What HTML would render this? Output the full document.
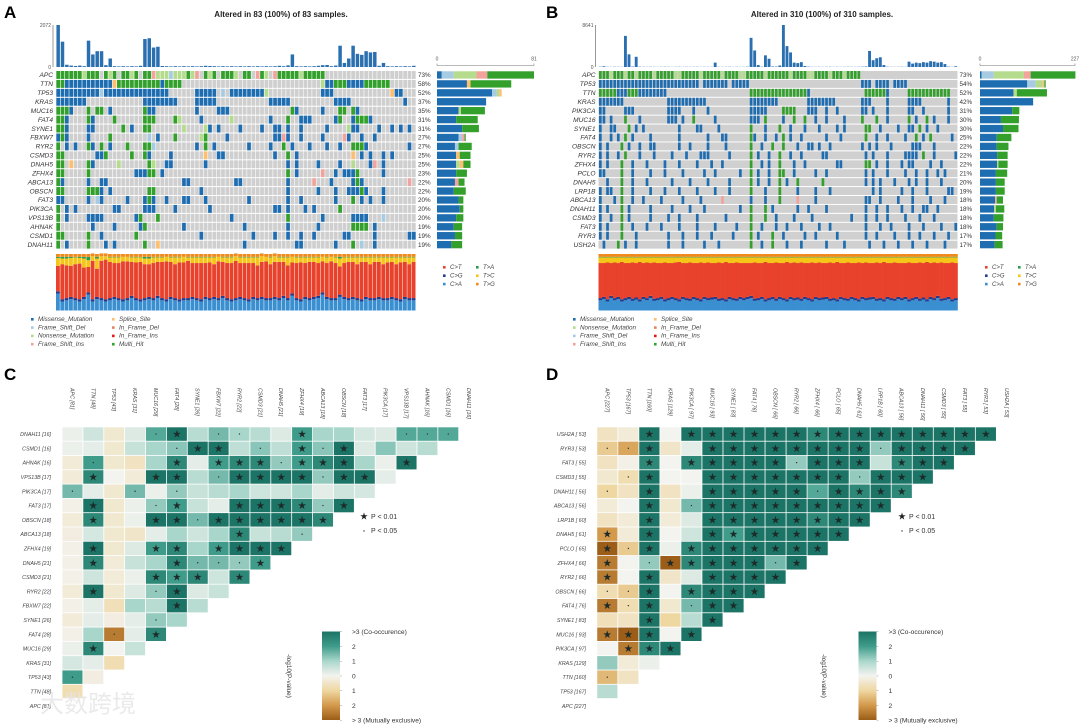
<!DOCTYPE html>
<html><head><meta charset="utf-8">
<style>
html,body{margin:0;padding:0;background:#fff;}
svg{display:block;font-family:"Liberation Sans","Noto Sans CJK SC",sans-serif;}
</style></head>
<body>
<svg id="fig" width="1080" height="725" viewBox="0 0 1080 725" xmlns="http://www.w3.org/2000/svg">
<rect x="0" y="0" width="1080" height="725" fill="#fff"/>
<text x="4" y="18" font-size="17" font-weight="bold">A</text>
<text x="546" y="18" font-size="17" font-weight="bold">B</text>
<text x="4" y="380" font-size="17" font-weight="bold">C</text>
<text x="546" y="380" font-size="17" font-weight="bold">D</text>
<text x="281" y="17" font-size="8" font-weight="bold" text-anchor="middle" fill="#222">Altered in 83 (100%) of 83 samples.</text>
<text x="822" y="17" font-size="8" font-weight="bold" text-anchor="middle" fill="#222">Altered in 310 (100%) of 310 samples.</text>
<g id="layer"></g>
<text x="40" y="712" font-size="24" fill="#e6e6e6" opacity="0.8">大数跨境</text>
</svg>
<script>
// ---------------- DATA ----------------
const genesA=['APC','TTN','TP53','KRAS','MUC16','FAT4','SYNE1','FBXW7','RYR2','CSMD3','DNAH5','ZFHX4','ABCA13','OBSCN','FAT3','PIK3CA','VPS13B','AHNAK','CSMD1','DNAH11'];
const pctA=['73%','58%','52%','37%','35%','31%','31%','27%','27%','25%','25%','23%','22%','22%','20%','20%','20%','19%','19%','19%'];
const gridA=[
"0-5M 6n 7-9M 11M 12n 13M 15-16M 17n 18M 20-21M 22i 23-25n 26f 27-29n 30M 31n 32i 34M 35n 36M 38M 39-40M 41n 43-44M 46i 47M 48n 50i 51-52M 53-55M 56n 57-61M",
"0-1M 2-12m 13s 14-23M 24m 25-28M 61n 62-63m 64-66M 67-70m 71-76M",
"0-9m 10f 11-25m 32-36m 38f 40-47m 48n 61-63m 77s 78-79m",
"0-6m 20-27m 32-36m 49-53m 64-67m 80m",
"0-2M 3m 7M 9-10M 12m 20M 21-22m 32m 37-39m 54M 55m 61m 65-66M 68M 69m",
"0-1M 2m 7M 8m 13M 20-22M 27M 28n 33m 40n 49m 53M 56-58m 64m 65M 68m 69-71M 72m",
"0-1M 2m 7-8m 15M 17m 20-21M 29n 34n 35m 37m 42m 47m 50-51m 53m 56m 62m 67n 68-69m 74m 77m 79m 81m",
"0m 1M 2m 7m 12M 21f 23m 27M 33n 34M 39m 50-51m 52i 53m 56m 61m 66i 67m 70m 73m",
"0M 2m 4m 7M 8m 10M 12m 16M 20-21M 22f 32m 34M 36m 44m 49m 52M 54m 58m 62m 65m 68M 69-70M 71m 81m",
"0-1M 9-10m 11M 17M 20M 21m 26m 34s 37-38m 50m 53M 55m 68s 70m 72m 75m 77m",
"0-1M 3s 7M 8m 14n 21M 22n 25-26m 34m 53m 55m 60m 65m 68n 72m 73i 75m",
"0-1M 7M 18-20m 21-22M 24m 53M 55m 61i 64m 66-68m 69M 75m",
"0M 1m 7m 10-11m 29-30m 41-42m 53m 59i 63m 68m 69M 70m 81i",
"0-1M 7-9M 10m 12m 21-22M 33m 53m 60m 64m 67-69m 70M 71m 75m",
"0-1m 7m 9f 10m 16m 20m 21M 22m 25m 29-30m 34m 44m 53m 56m 64m 68M 70m 72m 75m",
"0M 2m 4m 13-14m 20-22m 27m 35m 50-51m 53m 57m 59m 65M",
"0M 2m 7-10m 18m 19M 23M 40m 53M 61m 68m 69-71m 75f",
"0M 8m 13m 19m 20M 29m 43m 53m 60m 68-71M 73m",
"0-1M 7M 10m 18M 33m 45m 50m 53m 56m 59m 66-67m 73m 81-82m",
"0M 2m 7M 11m 13m 20M 23s 43m 55-56m 64m 68M 70f 73m"];
// right bar counts: [missense, fs_del, nonsense, fs_ins, splice, multi]
const barsA=[[4,10,19,9,0,39],[25,0,0,0,3,34],[46,4,2,0,2,0],[41,0,0,0,0,0],[18,0,2,0,0,20],[16,0,0,0,0,18],[21,0,0,0,0,14],[18,3,0,2,0,1],[15,3,0,0,0,11],[16,0,0,0,3,9],[16,0,3,0,3,6],[16,0,0,0,0,9],[15,0,0,3,0,5],[14,0,0,0,0,10],[18,0,0,0,0,4],[19,0,0,0,0,3],[16,0,0,0,0,6],[14,0,0,0,0,7],[15,0,0,0,0,6],[12,0,0,0,0,9]];
const tmbA=[2072,1250,110,70,50,70,40,1300,620,780,780,90,420,40,30,40,30,40,30,60,1380,1420,960,1000,50,40,30,40,30,40,30,40,30,40,60,50,40,30,40,30,40,30,40,30,40,30,40,30,40,30,40,60,40,80,620,40,30,40,30,40,60,90,100,40,70,1050,200,420,1050,650,600,780,720,740,60,200,40,30,40,30,40,30,60];
const ctA=[0.45,0.62,0.58,0.55,0.6,0.63,0.52,0.45,0.68,0.5,0.66,0.7,0.64,0.6,0.62,0.67,0.65,0.6,0.63,0.66,0.6,0.58,0.62,0.6,0.64,0.67,0.62,0.6,0.65,0.63,0.66,0.6,0.62,0.64,0.6,0.63,0.58,0.65,0.6,0.62,0.64,0.66,0.6,0.62,0.64,0.6,0.58,0.62,0.65,0.6,0.62,0.64,0.6,0.58,0.55,0.62,0.65,0.6,0.64,0.62,0.58,0.55,0.6,0.65,0.62,0.5,0.6,0.64,0.62,0.6,0.66,0.62,0.6,0.64,0.62,0.6,0.63,0.62,0.6,0.65,0.62,0.6,0.64];
const caA=[0.32,0.18,0.2,0.22,0.2,0.18,0.22,0.3,0.18,0.22,0.2,0.18,0.2,0.22,0.2,0.18,0.2,0.24,0.2,0.18,0.2,0.22,0.2,0.24,0.2,0.18,0.22,0.2,0.18,0.2,0.2,0.22,0.2,0.18,0.22,0.2,0.22,0.2,0.24,0.2,0.18,0.2,0.22,0.2,0.18,0.22,0.2,0.22,0.2,0.2,0.22,0.2,0.24,0.2,0.28,0.2,0.18,0.22,0.2,0.22,0.24,0.3,0.22,0.2,0.2,0.26,0.22,0.2,0.22,0.2,0.18,0.22,0.2,0.2,0.22,0.2,0.2,0.22,0.2,0.18,0.22,0.2,0.2];
const tcA=[0.14,0.1,0.12,0.14,0.12,0.1,0.16,0.12,0.08,0.18,0.08,0.06,0.08,0.1,0.1,0.08,0.08,0.08,0.09,0.08,0.1,0.1,0.1,0.08,0.08,0.08,0.08,0.12,0.09,0.1,0.06,0.1,0.1,0.1,0.1,0.09,0.12,0.08,0.08,0.1,0.1,0.08,0.1,0.1,0.1,0.1,0.14,0.1,0.08,0.12,0.1,0.08,0.08,0.14,0.1,0.1,0.09,0.1,0.08,0.08,0.1,0.08,0.1,0.08,0.1,0.14,0.1,0.08,0.08,0.12,0.08,0.08,0.12,0.08,0.08,0.12,0.09,0.08,0.12,0.09,0.08,0.12,0.08];

const genesB=['APC','TP53','TTN','KRAS','PIK3CA','MUC16','SYNE1','FAT4','OBSCN','RYR2','ZFHX4','PCLO','DNAH5','LRP1B','ABCA13','DNAH11','CSMD3','FAT3','RYR3','USH2A'];
const pctB=['73%','54%','52%','42%','31%','30%','30%','25%','22%','22%','22%','21%','20%','19%','18%','18%','18%','18%','17%','17%'];
const gridB=[
"0-2M 3n 4-6M 7n 8-9M 10n 11-14M 15n 16-20M 21-22n 23-27M 28n 29-33M 34n 35-38M 39-40n 41-45M 46n 47-52M 53n 54-57M 58-59n 60-63M 64n 65-67M 68n 69-72M",
"0-27m 29-35m 37-41m 73-75m 77-80m 82-85m",
"0-4M 5-7m 8-10M 11-18m 42-57M 58m 74-79M 80m 86-97M",
"0-6m 19-29m 42-49m 58-65m 73-75m 80m 86-89m 97m",
"0-1m 7-9m 19-22m 26m 30m 42-46m 51-54M 58-60m 63m 66m 73-74m 76m 80m 86-87m 90m 97m",
"0-1m 3m 7M 11m 19-21m 23m 26M 32m 42-44m 46M 51m 54M 57M 60m 63m 68m 73M 77M 80m 86M 88m 91M 93m 97m",
"0m 3-4m 8M 10m 12m 22m 27-28m 33m 42M 46m 50M 53m 57m 61m 66m 68m 74-75M 78m 83m 86-87m 89M 91m 94m",
"0m 3m 5m 7M 9m 14m 22m 30m 34-35m 42M 43m 46m 49m 51M 53m 56m 63m 67m 74M 77m 80m 85m 88M 90m 92M 98m",
"0m 2m 6M 8m 11m 14-15m 22m 25m 30m 35m 42M 45m 48M 51M 55m 58-59m 61m 64m 73m 75m 77m 81m 87-89m 93m",
"0m 2m 5m 7M 11m 15m 20m 24m 28-30m 36m 42M 44m 47m 50M 53m 56m 62-63m 74m 76m 80m 85-88m 90M 93m 99m",
"0m 2m 6M 9m 13m 18m 22m 27m 31m 34m 42M 45m 47m 50M 54m 57m 66-67m 74-75M 77m 80m 84m 86-87m 92m 95m",
"0-1m 6M 9m 14m 18m 23m 29m 32m 39m 42M 44m 47m 50-51M 54m 60m 63m 74m 76m 80m 85m 88m 91m 94m 96m",
"2m 6M 9m 13m 20m 25m 30m 36m 42M 44m 47m 50M 52m 55M 62M 74m 76m 78m 82m 86m 88m 91m 95m",
"0m 2-3m 6M 9m 14m 18m 22m 27m 32m 36m 42M 46m 50M 55m 60m 64m 76m 78m 84m 87m 91m 97-98m",
"0m 4m 6M 9m 12m 17m 23m 28m 34i 42m 46m 50M 55m 60m 55i 74-75m 78m 83m 87m 92m 96m",
"0m 2m 6M 8m 14m 20m 25m 29m 39m 42M 46M 48m 55m 58m 63m 74m 77m 80m 84m 87m 90-91m 94m",
"0m 3m 6M 8m 14m 19m 22m 27m 35m 42M 46M 49m 54m 59m 70m 74m 77m 80m 85m 89m 93m",
"0m 2m 6M 9m 13m 17m 22m 27m 32m 38m 42M 45m 49m 52m 56m 61m 64m 74m 78m 81m 86m 90m 95m 99m",
"0m 2m 6M 10m 19m 23m 27m 31m 37m 42M 44m 48M 51m 57m 60m 66m 74m 77m 82m 86m 89m 93m 97m",
"1m 5M 7m 10m 19m 23m 29m 33m 42M 45m 48M 52m 56m 63m 68m 75m 79m 83m 87m 91m 96m"];
const barsB=[[4,29,72,16,0,107],[113,20,17,0,4,3],[80,0,8,0,0,72],[127,0,0,0,0,0],[77,0,0,0,0,17],[50,0,0,0,0,43],[55,0,0,0,0,37],[40,0,0,0,0,35],[40,0,0,0,0,28],[41,0,0,0,0,25],[41,0,3,0,0,22],[38,0,0,0,0,27],[38,0,0,0,0,21],[38,0,0,0,0,21],[36,0,0,4,0,15],[34,0,4,0,0,20],[33,0,0,0,0,23],[40,0,0,0,0,15],[37,0,0,0,0,16],[35,0,0,0,0,19]];
const tmbB=[60,150,40,30,50,40,30,6400,2600,80,2100,60,40,30,50,40,30,40,50,40,30,40,50,30,40,30,40,50,30,40,40,30,900,40,30,40,50,30,40,30,40,60,6000,3400,400,60,2400,1700,100,80,300,8641,4300,3000,900,800,1000,200,60,40,30,40,30,40,50,30,40,30,40,50,40,30,50,60,100,3300,1400,1800,2000,400,60,40,30,40,50,30,1100,700,900,800,1000,900,1200,1100,900,1000,600,80,40,150];
const ctB=[0.62,0.6,0.65,0.58,0.63,0.6,0.66,0.62,0.6,0.64,0.61,0.66,0.6,0.63,0.58,0.64,0.62,0.6,0.65,0.62,0.6,0.63,0.66,0.6,0.62,0.64,0.6,0.62,0.65,0.6,0.63,0.61,0.6,0.64,0.62,0.66,0.6,0.62,0.64,0.6,0.62,0.6,0.58,0.64,0.62,0.6,0.66,0.62,0.6,0.64,0.6,0.62,0.66,0.6,0.63,0.61,0.64,0.6,0.62,0.65,0.6,0.63,0.61,0.6,0.64,0.62,0.66,0.6,0.62,0.64,0.6,0.62,0.65,0.6,0.63,0.61,0.6,0.64,0.62,0.66,0.6,0.62,0.64,0.6,0.62,0.6,0.65,0.62,0.6,0.64,0.61,0.66,0.6,0.63,0.58,0.64,0.62,0.6,0.65,0.62];
const caB=[0.2,0.22,0.18,0.24,0.2,0.22,0.18,0.2,0.22,0.19,0.21,0.18,0.22,0.2,0.24,0.19,0.2,0.22,0.18,0.2,0.22,0.2,0.18,0.22,0.2,0.19,0.22,0.2,0.18,0.22,0.2,0.21,0.22,0.19,0.2,0.18,0.22,0.2,0.19,0.22,0.2,0.22,0.24,0.19,0.2,0.22,0.18,0.2,0.22,0.19,0.22,0.2,0.18,0.22,0.2,0.21,0.19,0.22,0.2,0.18,0.22,0.2,0.21,0.22,0.19,0.2,0.18,0.22,0.2,0.19,0.22,0.2,0.18,0.22,0.2,0.21,0.22,0.19,0.2,0.18,0.22,0.2,0.19,0.22,0.2,0.22,0.18,0.2,0.22,0.19,0.21,0.18,0.22,0.2,0.24,0.19,0.2,0.22,0.18,0.2];
const tcB=[0.1,0.1,0.09,0.1,0.09,0.1,0.08,0.1,0.1,0.09,0.1,0.08,0.1,0.09,0.1,0.09,0.1,0.1,0.09,0.1,0.1,0.09,0.08,0.1,0.1,0.09,0.1,0.1,0.09,0.1,0.09,0.1,0.1,0.09,0.1,0.08,0.1,0.1,0.09,0.1,0.1,0.1,0.1,0.09,0.1,0.1,0.08,0.1,0.1,0.09,0.1,0.1,0.08,0.1,0.09,0.1,0.09,0.1,0.1,0.09,0.1,0.09,0.1,0.1,0.09,0.1,0.08,0.1,0.1,0.09,0.1,0.1,0.09,0.1,0.09,0.1,0.1,0.09,0.1,0.08,0.1,0.1,0.09,0.1,0.1,0.1,0.09,0.1,0.1,0.09,0.1,0.08,0.1,0.09,0.1,0.09,0.1,0.1,0.09,0.1];

// heatmap C
const rowLabelsC=['DNAH11 [16]','CSMD1 [16]','AHNAK [16]','VPS13B [17]','PIK3CA [17]','FAT3 [17]','OBSCN [18]','ABCA13 [18]','ZFHX4 [19]','DNAH5 [21]','CSMD3 [21]','RYR2 [22]','FBXW7 [22]','SYNE1 [26]','FAT4 [28]','MUC16 [29]','KRAS [31]','TP53 [43]','TTN [48]','APC [81]'];
const colLabelsC=['APC [81]','TTN [48]','TP53 [43]','KRAS [31]','MUC16 [29]','FAT4 [28]','SYNE1 [26]','FBXW7 [22]','RYR2 [22]','CSMD3 [21]','DNAH5 [21]','ZFHX4 [19]','ABCA13 [18]','OBSCN [18]','FAT3 [17]','PIK3CA [17]','VPS13B [17]','AHNAK [16]','CSMD1 [16]','DNAH11 [16]'];
const heatC=[
[0.1,0.5,-0.4,0.3,1.8,3,0.8,1.5,1,0.8,0.3,2,1,1,0.4,0.3,1.8,1.8,1.8],
[0.1,0.2,-0.4,0.6,1,1.3,3,3,0.7,1.3,0.7,2,1.3,3,0.3,1.3,0.5,0.8],
[-0.3,2,-0.4,-0.6,1,2.5,0.2,2,2.5,2.5,1.2,2,2.5,3,1,0.1,3],
[-0.3,2.5,0,-0.3,3,3,0.8,1.5,3,3,3,3,1.2,3,3,0.2],
[1.5,0.2,-0.4,1.5,0.1,1.2,0.6,0.8,1,0.5,0.5,1,0.2,0.5,0.4],
[-0.1,3,-0.4,0.1,1.2,2,0.6,0.2,3,3,3,2.5,1.2,3],
[-0.3,2.5,-0.4,0.1,3,3,1.5,3,3,3,3,3,2.5],
[-0.2,0.4,-0.4,-0.5,0.2,1,0.5,1,2.5,0.6,0.8,1.2],
[-0.1,3,-0.4,0.3,2,2.5,1,2,3,3,3],
[-0.1,2.5,-0.3,0.6,1,2.5,1.5,1.5,1.2,2],
[-0.1,0.5,-0.3,0.1,2.5,2,2.5,0.5,2.5],
[-0.3,3,-0.4,0.3,1.2,3,0.3,0.6],
[-0.1,0.2,-0.7,1,0.8,3,0.8],
[-0.3,0.2,-0.2,0.2,1.2,1],
[-0.1,1,-2.5,0.2,2.5],
[0.1,2.5,0,0.6],
[0.4,0.2,-0.8],
[2,-0.2],
[-0.8],
[]];
const sigC=["    .* ..  *    ...","     .** . *.*    "," .   * ***.***  *"," *  ** .****.** ",".  . .         "," *  .*  ****.*"," *  **.******","        *  ."," *  ** ****"," *   *...*","    *** *"," *  .*  ","     * ","    . ","  . *"," *  ","   ",". "," ",""];

// heatmap D
const rowLabelsD=['USH2A [ 53]','RYR3 [ 53]','FAT3 [ 55]','CSMD3 [ 55]','DNAH11 [ 56]','ABCA13 [ 56]','LRP1B [ 60]','DNAH5 [ 61]','PCLO [ 65]','ZFHX4 [ 66]','RYR2 [ 66]','OBSCN [ 66]','FAT4 [ 76]','SYNE1 [ 83]','MUC16 [ 93]','PIK3CA [ 97]','KRAS [129]','TTN [160]','TP53 [167]','APC [227]'];
const colLabelsD=['APC [227]','TP53 [167]','TTN [160]','KRAS [129]','PIK3CA [ 97]','MUC16 [ 93]','SYNE1 [ 83]','FAT4 [ 76]','OBSCN [ 66]','RYR2 [ 66]','ZFHX4 [ 66]','PCLO [ 65]','DNAH5 [ 61]','LRP1B [ 60]','ABCA13 [ 56]','DNAH11 [ 56]','CSMD3 [ 55]','FAT3 [ 55]','RYR3 [ 53]','USH2A [ 53]'];
const heatD=[
[-0.6,-0.3,3,0,3,3,3,3,3,3,2.5,3,3,3,3,3,3,3,3],
[-1.2,-1.8,3,-0.5,0.2,3,3,3,3,3,3,3,3,1.2,3,3,3,3],
[-0.6,-0.1,2.5,0,2.5,3,3,3,3,1.2,3,3,3,0.6,2.5,3,3],
[-0.4,-0.8,3,0,0,3,3,3,3,3,3,3,1.2,3,3,3],
[-1,-0.6,3,-0.6,0.1,3,3,3,3,3,1.8,3,2.5,3,2.5],
[-0.3,0,3,-0.4,1.5,3,3,3,3,3,3,3,3,3],
[-0.6,-0.3,3,-0.3,0.3,3,3,3,3,3,2.5,3,3],
[-2,-0.3,3,0,0.5,3,2,3,3,3,3,3],
[-3,-1.2,3,0.1,2.5,3,3,3,3,3,3],
[-2.5,0,1.2,-3,2.5,3,3,3,1.5,3],
[-2.5,0,3,-0.5,0.3,3,3,3,3],
[-0.8,-1.2,3,0,2.5,3,3,3],
[-2.5,-0.8,3,-0.4,1.5,3,3],
[-0.7,-0.6,3,-1,0.8,3],
[-2.5,-3,3,0,3],
[0,-2.5,2.5,3],
[1.2,-0.3,0.1],
[-1.5,-0.6],
[0.8],
[]];
const sigD=["  * ***************","..*  ********.****","  * *****.*** ***"," .*  *******.***",". *  *****.****","  * .*********","  *  ********","* *  *******","*.* *******","* .*****.*","* *  ****","..* ****","*.* .**","  *  *","*** *"," ***","   ",". "," ",""];

// ---------------- DRAW ----------------
const NS='http://www.w3.org/2000/svg';
const layer=document.getElementById('layer');
function el(tag,attrs,parent){const e=document.createElementNS(NS,tag);for(const k in attrs)e.setAttribute(k,attrs[k]);(parent||layer).appendChild(e);return e;}
function txt(x,y,s,attrs,parent){const t=el('text',Object.assign({x:x,y:y},attrs),parent);t.textContent=s;return t;}

const MUTC={m:'#1f6db1',f:'#a6cbe3',n:'#b4dc8c',i:'#f3a39d',s:'#fdbf6f',M:'#33a02c'};
const BARORDER=['m','f','n','i','s','M'];
const TITV={CT:'#e8412c',CG:'#233d8c',CA:'#3a8fd0',TA:'#2e9a4b',TC:'#f5c518',TG:'#f08a1c'};

function parseSparse(s){const out={};s.split(' ').forEach(tok=>{if(!tok)return;const code=tok.slice(-1);const r=tok.slice(0,-1).split('-').map(Number);const a=r[0],b=r.length>1?r[1]:r[0];for(let i=a;i<=b;i++)out[i]=code;});return out;}

function drawOnco(P){
  const g=el('g',{});
  
  
  const cw=P.w/P.n, rh=P.rowH;
  // TMB top bars
  const tmbX=i=>P.x0+i*P.w/P.tmb.length;
  const tmbY=v=>P.tmbBot-(v/P.tmbMax)*(P.tmbBot-P.tmbTop);
  el('line',{x1:P.x0-3,y1:P.tmbTop,x2:P.x0-3,y2:P.tmbBot,stroke:'#555','stroke-width':0.6},g);
  txt(P.x0-5,P.tmbTop+2,String(P.tmbMax),{'font-size':5,'text-anchor':'end',fill:'#555'},g);
  txt(P.x0-5,P.tmbBot+2,'0',{'font-size':5,'text-anchor':'end',fill:'#555'},g);
  P.tmb.forEach((v,i)=>{
    const bw=P.w/P.tmb.length;
    const r=el('rect',{x:tmbX(i)+bw*0.1,y:tmbY(v),width:Math.max(bw*0.8,0.8),height:P.tmbBot-tmbY(v),fill:'#2a6fb0'},g);
    
    
  });
  // grid
  P.genes.forEach((gene,gi)=>{
    const y=P.y0+gi*rh;
    const lab=txt(P.x0-3,y+rh*0.75,gene,{'font-size':6.6,'font-style':'italic','text-anchor':'end',fill:'#333'},g);
    
    
    txt(P.x0+P.w+2,y+rh*0.75,P.pct[gi],{'font-size':6.3,fill:'#333'},g);
    const muts=parseSparse(P.grid[gi]);
    if(P.cellGap){
      for(let i=0;i<P.n;i++){
        const c=muts[i]?MUTC[muts[i]]:'#cfcfcf';
        const r=el('rect',{x:P.x0+i*cw+0.3,y:y+0.5,width:cw-0.6,height:rh-1,fill:c},g);
        
        
      }
    }else{
      const bg=el('rect',{x:P.x0,y:y+0.5,width:P.w,height:rh-1,fill:'#d0d0d0'},g);
      
      
      for(const k in muts){
        const r=el('rect',{x:P.x0+k*cw+0.5,y:y+0.5,width:cw*0.75,height:rh-1,fill:MUTC[muts[k]]},g);
        
        
      }
    }
    // right bars
    const scale=(P.rbX1-P.rbX0)/P.rbMax;
    let acc=0;
    P.bars[gi].forEach((v,k)=>{
      if(!v)return;
      const r=el('rect',{x:P.rbX0+acc*scale,y:y+0.8,width:v*scale,height:rh-1.6,fill:MUTC[BARORDER[k]]},g);
      
      
      acc+=v;
    });
  });
  // right axis
  el('line',{x1:P.rbX0,y1:P.y0-5,x2:P.rbX1,y2:P.y0-5,stroke:'#777','stroke-width':0.6},g);
  el('line',{x1:P.rbX0,y1:P.y0-5,x2:P.rbX0,y2:P.y0-7,stroke:'#777','stroke-width':0.6},g);
  el('line',{x1:P.rbX1,y1:P.y0-5,x2:P.rbX1,y2:P.y0-7,stroke:'#777','stroke-width':0.6},g);
  txt(P.rbX0,P.y0-10,'0',{'font-size':5,'text-anchor':'middle',fill:'#555'},g);
  txt(P.rbX1,P.y0-10,String(P.rbMax),{'font-size':5,'text-anchor':'middle',fill:'#555'},g);
  // titv
  const tn=P.ct.length, tw=P.w/tn, H=P.tvBot-P.tvTop;
  for(let i=0;i<tn;i++){
    const cg=0.04, tg=0.03;
    const ta=Math.max(0,1-P.ct[i]-P.ca[i]-P.tc[i]-cg-tg);
    const parts=[['CA',P.ca[i]-cg/2],['CG',cg],['CT',P.ct[i]],['TC',P.tc[i]],['TA',ta],['TG',tg+cg/2]];
    let yb=P.tvBot;
    parts.forEach(([k,f])=>{
      const h=f*H;
      const r=el('rect',{x:P.x0+i*tw,y:yb-h,width:tw+(P.cellGap?-0.5:0.3),height:h,fill:TITV[k]},g);
      
      
      yb-=h;
    });
  }
  // titv legend
  [['C>T','CT'],['C>G','CG'],['C>A','CA']].forEach((a,j)=>{
    el('rect',{x:P.lgX,y:P.lgY+j*8.4-3,width:2.6,height:2.6,fill:TITV[a[1]]},g);
    txt(P.lgX+7,P.lgY+j*8.4,a[0],{'font-size':6,'font-style':'italic',fill:'#444'},g);
  });
  [['T>A','TA'],['T>C','TC'],['T>G','TG']].forEach((a,j)=>{
    el('rect',{x:P.lgX+33,y:P.lgY+j*8.4-3,width:2.6,height:2.6,fill:TITV[a[1]]},g);
    txt(P.lgX+40,P.lgY+j*8.4,a[0],{'font-size':6,'font-style':'italic',fill:'#444'},g);
  });
  // variant legend
  P.vleg.forEach((col,ci)=>col.forEach((a,j)=>{
    const x=P.vlX[ci], y=321+j*8.3;
    el('rect',{x:x,y:y-3,width:2.6,height:2.6,fill:a[1]},g);
    const t=txt(x+7,y,a[0],{'font-size':6.3,'font-style':'italic',fill:'#444'},g);
    
    
  }));
}

const vlegA=[[['Missense_Mutation',MUTC.m],['Frame_Shift_Del',MUTC.f],['Nonsense_Mutation',MUTC.n],['Frame_Shift_Ins',MUTC.i]],[['Splice_Site',MUTC.s],['In_Frame_Del','#e0865e'],['In_Frame_Ins','#e31a1c'],['Multi_Hit',MUTC.M]]];
const vlegB=[[['Missense_Mutation',MUTC.m],['Nonsense_Mutation',MUTC.n],['Frame_Shift_Del',MUTC.f],['Frame_Shift_Ins',MUTC.i]],[['Splice_Site',MUTC.s],['In_Frame_Del','#e0865e'],['In_Frame_Ins','#e31a1c'],['Multi_Hit',MUTC.M]]];

drawOnco({name:'panel-a',x0:56,w:360,y0:70.5,rowH:8.93,n:83,genes:genesA,pct:pctA,grid:gridA,bars:barsA,cellGap:true,
  tmb:tmbA,tmbMax:2072,tmbTop:25,tmbBot:67,rbX0:437,rbX1:534,rbMax:81,ct:ctA,ca:caA,tc:tcA,tvTop:254,tvBot:310.5,
  lgX:443,lgY:269,vleg:vlegA,vlX:[31,112]});
drawOnco({name:'panel-b',x0:598.5,w:359,y0:70.5,rowH:8.93,n:100,genes:genesB,pct:pctB,grid:gridB,bars:barsB,cellGap:false,
  tmb:tmbB,tmbMax:8641,tmbTop:25,tmbBot:67,rbX0:980,rbX1:1075,rbMax:227,ct:ctB,ca:caB,tc:tcB,tvTop:254,tvBot:310.5,
  lgX:985,lgY:269,vleg:vlegB,vlX:[573,654]});

// heatmap colour
const STOPS=[[-3,[155,93,23]],[-2,[211,154,76]],[-1,[239,215,162]],[0,[243,243,239]],[1,[169,214,203]],[2,[63,156,138]],[3,[27,116,101]]];
function heatColor(v){v=Math.max(-3,Math.min(3,v));for(let i=0;i<STOPS.length-1;i++){const a=STOPS[i],b=STOPS[i+1];if(v<=b[0]){const t=(v-a[0])/(b[0]-a[0]);const c=a[1].map((x,k)=>Math.round(x+(b[1][k]-x)*t));return 'rgb('+c.join(',')+')';}}return 'rgb(27,116,101)';}

function drawHeat(H){
  const g=el('g',{});
  
  
  const cx=j=>H.x0+j*H.cw, cy=i=>H.y0+i*H.ch;
  H.cols.forEach((c,j)=>{
    const t=txt(0,0,c,{'font-size':5.3,'font-style':'italic',fill:'#444',transform:'translate('+(cx(j)+H.cw/2-2)+','+388+') rotate(90)'},g);
    
    
  });
  H.rows.forEach((r,i)=>{
    const t=txt(H.labX,cy(i)+H.ch/2+2,r,{'font-size':5.3,'font-style':'italic','text-anchor':'end',fill:'#444'},g);
    
    
    H.vals[i].forEach((v,j)=>{
      const rc=el('rect',{x:cx(j)+0.4,y:cy(i)+0.4,width:H.cw-0.8,height:H.ch-0.8,fill:heatColor(v)},g);
      
      
      const s=H.sig[i][j];
      if(s==='*'){txt(cx(j)+H.cw/2,cy(i)+H.ch/2+3,'★',{'font-size':8.5,'text-anchor':'middle',fill:'#1d2a2a'},g);}
      else if(s==='.'){el('circle',{cx:cx(j)+H.cw/2,cy:cy(i)+H.ch/2,r:0.7,fill:'#333'},g);}
    });
  });
  // significance legend
  txt(H.sgX,519,'★',{'font-size':8,'text-anchor':'middle',fill:'#222'},g);
  txt(H.sgX+7,519,'P < 0.01',{'font-size':7,fill:'#333'},g);
  el('circle',{cx:H.sgX,cy:531,r:0.7,fill:'#333'},g);
  txt(H.sgX+7,533,'P < 0.05',{'font-size':7,fill:'#333'},g);
  // colorbar
  const cb=el('rect',{x:H.cbX,y:631.5,width:H.cbW,height:88.5,fill:'url(#cbgrad)'},g);
  
  
  const lbls=['>3 (Co-occurence)','2','1','0','1','2','> 3 (Mutually exclusive)'];
  lbls.forEach((s,k)=>{
    const y=631.7+k*14.75;
    el('line',{x1:H.cbX+H.cbW,y1:y,x2:H.cbX+H.cbW+2,y2:y,stroke:'#999','stroke-width':0.5},g);
    const t=txt(H.cbX+H.cbW+12,y+2.5,s,{'font-size':6.6,fill:'#333'},g);
    
    
  });
  const yt=txt(0,0,'-log10(P-value)',{'font-size':6.4,fill:'#333','text-anchor':'middle',transform:'translate('+H.ylX+',676) rotate(90)'},g);
  
  
}
// gradient def
const defs=el('defs',{},document.getElementById('fig'));
const lg=el('linearGradient',{id:'cbgrad',x1:0,y1:0,x2:0,y2:1},defs);
STOPS.slice().reverse().forEach((s,k)=>{el('stop',{offset:(k/6),'stop-color':'rgb('+s[1].join(',')+')'},lg);});

drawHeat({name:'panel-c',x0:62,cw:20.88,y0:426.9,ch:14.3,rows:rowLabelsC,cols:colLabelsC,vals:heatC,sig:sigC,labX:51,sgX:364,cbX:322,cbW:18,ylX:287});
drawHeat({name:'panel-d',x0:596.8,cw:21.03,y0:426.9,ch:14.3,rows:rowLabelsD,cols:colLabelsD,vals:heatD,sig:sigD,labX:586,sgX:902,cbX:858.5,cbW:18,ylX:822});
</script>
</body></html>
